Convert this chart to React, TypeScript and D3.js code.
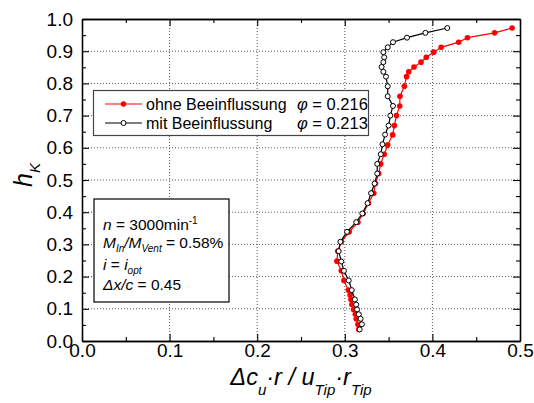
import React, { useEffect, useRef } from 'react';
import * as d3 from 'd3';

// h_K positions (radial height)
const hOhne = [
  0.972, 0.957, 0.942, 0.928, 0.912, 0.897, 0.881, 0.866, 0.851, 0.836, 0.821, 0.791,
  0.760, 0.730, 0.700, 0.669, 0.640, 0.609, 0.580, 0.550, 0.520, 0.489, 0.459, 0.428,
  0.396, 0.369, 0.339, 0.308, 0.279, 0.248, 0.218, 0.188, 0.158, 0.143, 0.129, 0.113,
  0.098, 0.083, 0.069, 0.052, 0.036,
];
// Δc_u·r / u_Tip·r_Tip, ohne Beeinflussung
const vOhne = [
  0.491, 0.471, 0.440, 0.430, 0.410, 0.4015, 0.393, 0.387, 0.379, 0.373, 0.3705, 0.368,
  0.363, 0.3627, 0.359, 0.3566, 0.3546, 0.349, 0.345, 0.341, 0.3387, 0.335, 0.333, 0.327,
  0.321, 0.315, 0.305, 0.296, 0.292, 0.291, 0.296, 0.299, 0.304, 0.306, 0.307, 0.308,
  0.310, 0.312, 0.313, 0.315, 0.316,
];

const hMit = [
  0.972, 0.957, 0.942, 0.928, 0.912, 0.897, 0.881, 0.866, 0.851, 0.836, 0.821, 0.791,
  0.760, 0.730, 0.700, 0.669, 0.641, 0.611, 0.580, 0.550, 0.520, 0.489, 0.459, 0.428,
  0.396, 0.369, 0.339, 0.308, 0.279, 0.247, 0.218, 0.188, 0.158, 0.129, 0.113, 0.098,
  0.083, 0.069, 0.052, 0.036,
];
const vMit = [
  0.417, 0.392, 0.371, 0.355, 0.349, 0.344, 0.345, 0.344, 0.342, 0.344, 0.347, 0.349,
  0.349, 0.355, 0.352, 0.350, 0.346, 0.343, 0.341, 0.337, 0.337, 0.334, 0.330, 0.326,
  0.320, 0.313, 0.3025, 0.295, 0.293, 0.296, 0.299, 0.3045, 0.308, 0.3115, 0.313, 0.314,
  0.316, 0.318, 0.3195, 0.317,
];

const xMajor = [0, 0.1, 0.2, 0.3, 0.4, 0.5];
const xMinor = [0.05, 0.15, 0.25, 0.35, 0.45];
const yMajor = [0, 0.1, 0.2, 0.3, 0.4, 0.5, 0.6, 0.7, 0.8, 0.9, 1.0];
const yMinor = [0.05, 0.15, 0.25, 0.35, 0.45, 0.55, 0.65, 0.75, 0.85, 0.95];

const FONT = '"Liberation Sans", Arial, sans-serif';

export default function App() {
  const svgRef = useRef<SVGSVGElement>(null);

  useEffect(() => {
    if (!svgRef.current) return;
    const width = 534;
    const height = 403;
    const margin = { top: 19, right: 14, bottom: 62, left: 82 };
    const iw = width - margin.left - margin.right;
    const ih = height - margin.top - margin.bottom;

    const svg = d3.select(svgRef.current);
    svg.selectAll('*').remove();
    svg.attr('width', width).attr('height', height).style('font-family', FONT);

    const x = d3.scaleLinear().domain([0, 0.5]).range([0, iw]);
    const y = d3.scaleLinear().domain([0, 1]).range([ih, 0]);

    const g = svg.append('g').attr('transform', `translate(${margin.left},${margin.top})`);

    // dotted grid
    g.selectAll('.gx')
      .data(xMajor.slice(1, -1))
      .enter()
      .append('line')
      .attr('x1', (d) => x(d))
      .attr('x2', (d) => x(d))
      .attr('y1', 0)
      .attr('y2', ih)
      .attr('stroke', '#555')
      .attr('stroke-width', 1)
      .attr('stroke-dasharray', '1,2');
    g.selectAll('.gy')
      .data(yMajor.slice(1, -1))
      .enter()
      .append('line')
      .attr('x1', 0)
      .attr('x2', iw)
      .attr('y1', (d) => y(d))
      .attr('y2', (d) => y(d))
      .attr('stroke', '#555')
      .attr('stroke-width', 1)
      .attr('stroke-dasharray', '1,2');

    // axes, ticks pointing inward
    const styleAxis = (sel: any) => {
      sel.select('.domain').attr('stroke', '#000').attr('stroke-width', 1.3);
      sel.selectAll('.tick line').attr('stroke', '#000').attr('stroke-width', 1.1);
      sel.selectAll('text').style('font-family', FONT).style('font-size', '19px').attr('fill', '#000');
    };

    g.append('g')
      .attr('transform', `translate(0,${ih})`)
      .call(d3.axisBottom(x).tickValues(xMajor).tickSizeInner(-7).tickSizeOuter(0).tickPadding(2).tickFormat(d3.format('.1f')))
      .call(styleAxis);
    g.append('g')
      .attr('transform', `translate(0,${ih})`)
      .call(d3.axisBottom(x).tickValues(xMinor).tickSizeInner(-4).tickSizeOuter(0).tickFormat(() => ''))
      .call(styleAxis);
    g.append('g')
      .call(d3.axisTop(x).tickValues(xMajor).tickSizeInner(-7).tickSizeOuter(0).tickFormat(() => ''))
      .call(styleAxis);
    g.append('g')
      .call(d3.axisTop(x).tickValues(xMinor).tickSizeInner(-4).tickSizeOuter(0).tickFormat(() => ''))
      .call(styleAxis);

    g.append('g')
      .call(d3.axisLeft(y).tickValues(yMajor).tickSizeInner(-7).tickSizeOuter(0).tickPadding(9).tickFormat(d3.format('.1f')))
      .call(styleAxis);
    g.append('g')
      .call(d3.axisLeft(y).tickValues(yMinor).tickSizeInner(-4).tickSizeOuter(0).tickFormat(() => ''))
      .call(styleAxis);
    g.append('g')
      .attr('transform', `translate(${iw},0)`)
      .call(d3.axisRight(y).tickValues(yMajor).tickSizeInner(-7).tickSizeOuter(0).tickFormat(() => ''))
      .call(styleAxis);
    g.append('g')
      .attr('transform', `translate(${iw},0)`)
      .call(d3.axisRight(y).tickValues(yMinor).tickSizeInner(-4).tickSizeOuter(0).tickFormat(() => ''))
      .call(styleAxis);

    // series
    const line = d3
      .line<[number, number]>()
      .x((d) => x(d[0]))
      .y((d) => y(d[1]));

    const ohne: [number, number][] = vOhne.map((v, i) => [v, hOhne[i]]);
    const mit: [number, number][] = vMit.map((v, i) => [v, hMit[i]]);

    g.append('path').datum(ohne).attr('d', line).attr('fill', 'none').attr('stroke', '#ff0000').attr('stroke-width', 1.2);
    g.selectAll('.pOhne')
      .data(ohne)
      .enter()
      .append('circle')
      .attr('cx', (d) => x(d[0]))
      .attr('cy', (d) => y(d[1]))
      .attr('r', 2.8)
      .attr('fill', '#ff0000');

    g.append('path').datum(mit).attr('d', line).attr('fill', 'none').attr('stroke', '#000').attr('stroke-width', 1.2);
    g.selectAll('.pMit')
      .data(mit)
      .enter()
      .append('circle')
      .attr('cx', (d) => x(d[0]))
      .attr('cy', (d) => y(d[1]))
      .attr('r', 2.5)
      .attr('fill', '#fff')
      .attr('stroke', '#000')
      .attr('stroke-width', 1);

    // legend
    const lg = svg.append('g');
    lg.append('rect').attr('x', 93.5).attr('y', 90.5).attr('width', 275).attr('height', 45).attr('fill', '#fff').attr('stroke', '#444').attr('stroke-width', 1.2);
    const rows = [
      { label: 'ohne Beeinflussung', phi: '0.216', color: '#ff0000', filled: true, y: 104 },
      { label: 'mit Beeinflussung', phi: '0.213', color: '#000', filled: false, y: 123 },
    ];
    rows.forEach((r) => {
      lg.append('line').attr('x1', 105).attr('x2', 142).attr('y1', r.y).attr('y2', r.y).attr('stroke', r.color).attr('stroke-width', 1.2);
      lg.append('circle')
        .attr('cx', 123.5)
        .attr('cy', r.y)
        .attr('r', r.filled ? 2.8 : 2.5)
        .attr('fill', r.filled ? r.color : '#fff')
        .attr('stroke', r.filled ? 'none' : r.color);
      lg.append('text').attr('x', 146).attr('y', r.y + 6).style('font-size', '16px').text(r.label);
      const t = lg.append('text').attr('x', 297).attr('y', r.y + 6).style('font-size', '16.5px');
      t.append('tspan').style('font-style', 'italic').text('φ');
      t.append('tspan').text(` = ${r.phi}`);
    });

    // info box
    const ib = svg.append('g');
    ib.append('rect').attr('x', 94).attr('y', 199).attr('width', 135).attr('height', 103).attr('fill', '#fff').attr('stroke', '#000').attr('stroke-width', 1.2);
    const fs = '15.5px';
    const sub = '10px';
    const t1 = ib.append('text').attr('x', 103).attr('y', 230).style('font-size', fs);
    t1.append('tspan').style('font-style', 'italic').text('n');
    t1.append('tspan').text(' = 3000min');
    t1.append('tspan').attr('dy', -6).style('font-size', sub).text('-1');

    const t2 = ib.append('text').attr('x', 103).attr('y', 247.5).style('font-size', fs).style('font-style', 'italic');
    t2.append('tspan').text('M');
    t2.append('tspan').attr('dy', 4).style('font-size', sub).text('In');
    t2.append('tspan').attr('dy', -4).text('/M');
    t2.append('tspan').attr('dy', 4).style('font-size', sub).text('Vent');
    t2.append('tspan').attr('dy', -4).style('font-style', 'normal').text(' = 0.58%');

    const t3 = ib.append('text').attr('x', 103).attr('y', 270).style('font-size', fs);
    t3.append('tspan').style('font-style', 'italic').text('i');
    t3.append('tspan').text(' = ');
    t3.append('tspan').style('font-style', 'italic').text('i');
    t3.append('tspan').attr('dy', 4).style('font-size', sub).style('font-style', 'italic').text('opt');

    const t4 = ib.append('text').attr('x', 103).attr('y', 290).style('font-size', fs);
    t4.append('tspan').style('font-style', 'italic').text('Δx/c');
    t4.append('tspan').text(' = 0.45');

    // axis titles
    const xt = svg.append('text').attr('x', 301).attr('y', 385).attr('text-anchor', 'middle').style('font-size', '23.5px').style('font-style', 'italic');
    xt.append('tspan').text('Δc');
    xt.append('tspan').attr('dy', 10).style('font-size', '15px').text('u');
    xt.append('tspan').attr('dy', -10).text('·r / u');
    xt.append('tspan').attr('dy', 10).style('font-size', '15px').text('Tip');
    xt.append('tspan').attr('dy', -10).text('·r');
    xt.append('tspan').attr('dy', 10).style('font-size', '15px').text('Tip');

    const yt = svg.append('text').attr('transform', 'translate(32,175) rotate(-90)').attr('text-anchor', 'middle').style('font-size', '25px').style('font-style', 'italic');
    yt.append('tspan').text('h');
    yt.append('tspan').attr('dy', 8).style('font-size', '15px').text('K');

    return () => {
      svg.selectAll('*').remove();
    };
  }, []);

  return (
    <div style={{ position: 'fixed', left: 0, top: 0, background: '#fff' }}>
      <svg ref={svgRef} style={{ display: 'block' }} />
    </div>
  );
}
